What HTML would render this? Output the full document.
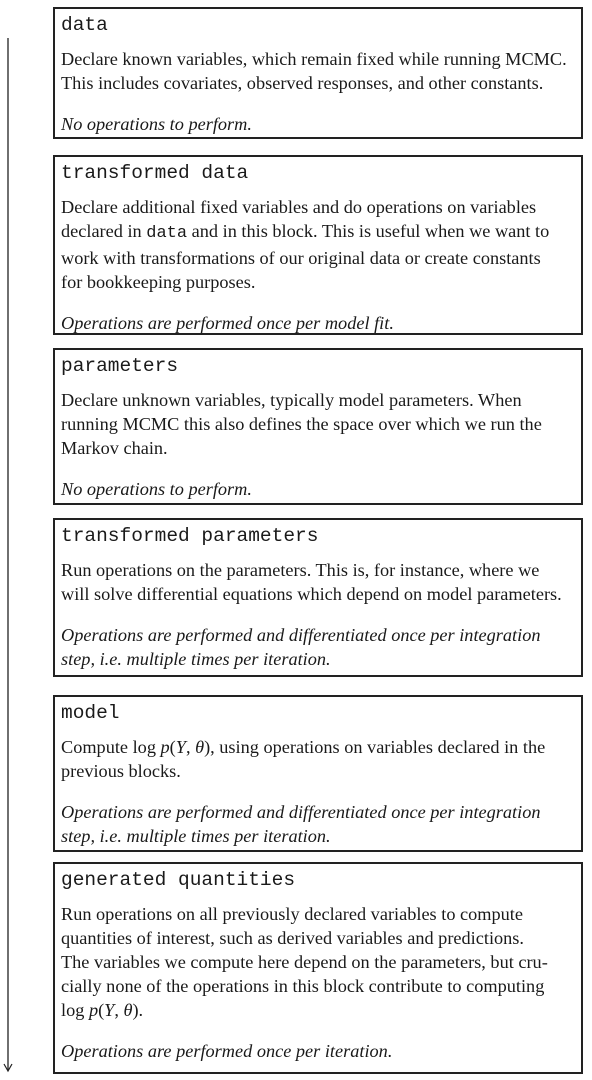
<!DOCTYPE html>
<html><head><meta charset="utf-8"><style>
html,body{margin:0;padding:0;background:#fff;}
body{width:592px;height:1080px;position:relative;overflow:hidden;font-family:"Liberation Serif",serif;color:#1a1a1a;}
.b{position:absolute;left:53px;width:526px;border:2px solid #222;box-sizing:content-box;padding-top:4px;}
.h{font-family:"Liberation Mono",monospace;font-size:19.5px;line-height:24px;padding-left:6px;}
.t{margin-top:10px;padding-left:6px;font-size:18.3px;line-height:24px;white-space:nowrap;}
.i{margin-top:17px;padding-left:6px;font-size:18.3px;line-height:24px;font-style:italic;white-space:nowrap;}
.m{font-family:"Liberation Mono",monospace;font-size:17px;}
</style></head><body>
<svg width="20" height="1080" style="position:absolute;left:0;top:0">
<line x1="8" y1="38" x2="8" y2="1070" stroke="#222" stroke-width="1.3"/>
<path d="M4 1064 L8 1071 L12 1064" fill="none" stroke="#222" stroke-width="1.2"/>
</svg>

<div class="b" style="top:7px;height:124px">
<div class="h">data</div>
<div class="t">Declare known variables, which remain fixed while running MCMC.<br>This includes covariates, observed responses, and other constants.</div>
<div class="i">No operations to perform.</div>
</div>

<div class="b" style="top:155px;height:172px">
<div class="h">transformed data</div>
<div class="t">Declare additional fixed variables and do operations on variables<br>declared in <span class="m">data</span> and in this block. This is useful when we want to<br>work with transformations of our original data or create constants<br>for bookkeeping purposes.</div>
<div class="i">Operations are performed once per model fit.</div>
</div>

<div class="b" style="top:348px;height:149px">
<div class="h">parameters</div>
<div class="t">Declare unknown variables, typically model parameters. When<br>running MCMC this also defines the space over which we run the<br>Markov chain.</div>
<div class="i">No operations to perform.</div>
</div>

<div class="b" style="top:518px;height:151px">
<div class="h">transformed parameters</div>
<div class="t">Run operations on the parameters. This is, for instance, where we<br>will solve differential equations which depend on model parameters.</div>
<div class="i">Operations are performed and differentiated once per integration<br>step, i.e. multiple times per iteration.</div>
</div>

<div class="b" style="top:695px;height:149px">
<div class="h">model</div>
<div class="t">Compute log <i>p</i>(<i>Y</i>, <i>θ</i>), using operations on variables declared in the<br>previous blocks.</div>
<div class="i">Operations are performed and differentiated once per integration<br>step, i.e. multiple times per iteration.</div>
</div>

<div class="b" style="top:862px;height:204px">
<div class="h">generated quantities</div>
<div class="t">Run operations on all previously declared variables to compute<br>quantities of interest, such as derived variables and predictions.<br>The variables we compute here depend on the parameters, but cru-<br>cially none of the operations in this block contribute to computing<br>log <i>p</i>(<i>Y</i>, <i>θ</i>).</div>
<div class="i">Operations are performed once per iteration.</div>
</div>
</body></html>
